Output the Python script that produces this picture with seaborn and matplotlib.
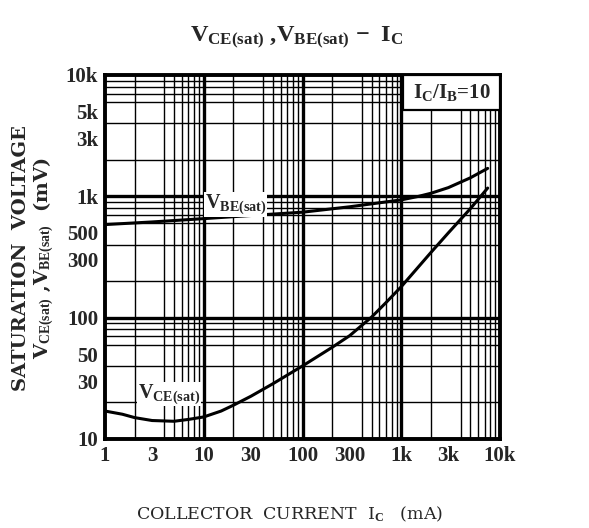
import numpy as np
import pandas as pd
import matplotlib
matplotlib.use("Agg")
import matplotlib.pyplot as plt
from matplotlib.ticker import FixedLocator, LogLocator, NullFormatter
from matplotlib.patches import Rectangle
import seaborn as sns

# ---- data ----
ic_vbe = [1, 3, 10, 30, 100, 300, 1000, 1500, 2000, 3000, 5000, 7500]
vbe = [585, 615, 655, 695, 740, 820, 935, 1000, 1060, 1180, 1420, 1700]

ic_vce = [1, 1.5, 2, 3, 5, 7, 10, 15, 20, 30, 50, 100, 200, 300, 500, 700,
          1000, 2000, 3000, 5000, 7500]
vce = [17, 16, 15, 14.2, 14, 14.5, 15.2, 17, 19, 22.5, 28.5, 40, 57, 71, 101, 133,
       180, 345, 500, 790, 1170]

x_ticks = [1, 3, 10, 30, 100, 300, 1000, 3000, 10000]
x_labels = ["1", "3", "10", "30", "100", "300", "1k", "3k", "10k"]
y_ticks = [10, 30, 50, 100, 300, 500, 1000, 3000, 5000, 10000]
y_labels = ["10", "30", "50", "100", "300", "500", "1k", "3k", "5k", "10k"]

sns.set_style("white")
plt.rcParams['font.family'] = ['Liberation Serif', 'DejaVu Serif']
plt.rcParams['font.weight'] = 'bold'
plt.rcParams['mathtext.fontset'] = 'custom'
plt.rcParams['mathtext.rm'] = 'Liberation Serif:bold'
plt.rcParams['mathtext.it'] = 'Liberation Serif:bold'
plt.rcParams['mathtext.bf'] = 'Liberation Serif:bold'

fig = plt.figure(figsize=(5.89, 5.28), dpi=100)
ax = fig.add_axes([105/589, 1-439/528, 395/589, (439-75)/528])

df_vbe = pd.DataFrame({"ic": ic_vbe, "v": vbe})
df_vce = pd.DataFrame({"ic": ic_vce, "v": vce})
sns.lineplot(data=df_vbe, x="ic", y="v", ax=ax, color="black", lw=2.2, zorder=5)
sns.lineplot(data=df_vce, x="ic", y="v", ax=ax, color="black", lw=2.2, zorder=5)

ax.set_xscale("log")
ax.set_yscale("log")
ax.set_xlim(1, 10000)
ax.set_ylim(10, 10000)

ax.xaxis.set_major_locator(FixedLocator(x_ticks))
ax.set_xticklabels(x_labels)
ax.yaxis.set_major_locator(FixedLocator(y_ticks))
ax.set_yticklabels(y_labels)
ax.xaxis.set_minor_locator(LogLocator(base=10, subs=np.arange(2, 10)))
ax.yaxis.set_minor_locator(LogLocator(base=10, subs=np.arange(2, 10)))
ax.xaxis.set_minor_formatter(NullFormatter())
ax.yaxis.set_minor_formatter(NullFormatter())
ax.tick_params(axis="both", which="both", length=0, labelsize=15, pad=5)
for lab in ax.get_xticklabels() + ax.get_yticklabels():
    lab.set_fontweight("bold")

# grid: thin lines at 2..9, thick lines at decades
ax.grid(which="minor", color="black", lw=1.0)
ax.grid(which="major", visible=False)
for d in [10, 100, 1000]:
    ax.axvline(d, color="black", lw=2.4, zorder=2)
    ax.axhline(d, color="black", lw=2.4, zorder=2)
for sp in ax.spines.values():
    sp.set_linewidth(2.8)
    sp.set_color("black")

ax.set_xlabel("")
ax.set_ylabel("")

# curve labels
ax.text(10.2, 860, r"V$_{\rm BE(sat)}$", fontsize=14.5, va="center", ha="left",
        bbox=dict(facecolor="white", edgecolor="none", pad=0.3), zorder=6)
ax.text(2.15, 23.5, r"V$_{\rm CE(sat)}$", fontsize=14.5, va="center", ha="left",
        bbox=dict(facecolor="white", edgecolor="none", pad=0.3), zorder=6)

# IC/IB box
bx0 = (403 - 105) / 395
by0 = (439 - 110) / 364
ax.add_patch(Rectangle((bx0, by0), 1 - bx0, 1 - by0, transform=ax.transAxes,
                       facecolor="white", edgecolor="black", lw=1.6, zorder=7,
                       clip_on=False))
ax.text((bx0 + 1) / 2, (by0 + 1) / 2, r"I$_{\rm C}$/I$_{\rm B}$=10", transform=ax.transAxes,
        fontsize=15, ha="center", va="center", zorder=8)

fig.text(297/589, 1-38/528, r"V$_{\rm CE(sat)}$ ,V$_{\rm BE(sat)}$ $-$  I$_{\rm C}$",
         fontsize=17.5, ha="center", va="center")
fig.text(290/589, 1-514/528, r"COLLECTOR  CURRENT  I$_{\rm C}$   (mA)",
         fontsize=12.5, ha="center", va="center", fontweight="normal",
         family=["DejaVu Serif"])
fig.text(21/589, 1-258/528, "SATURATION  VOLTAGE", rotation=90,
         fontsize=14, ha="center", va="center", family=["DejaVu Serif"])
fig.text(44/589, 1-258/528, r"V$_{\rm CE(sat)}$ ,V$_{\rm BE(sat)}$  (mV)", rotation=90,
         fontsize=14, ha="center", va="center", family=["DejaVu Serif"])

fig.savefig("out.png", dpi=100, facecolor="white")
